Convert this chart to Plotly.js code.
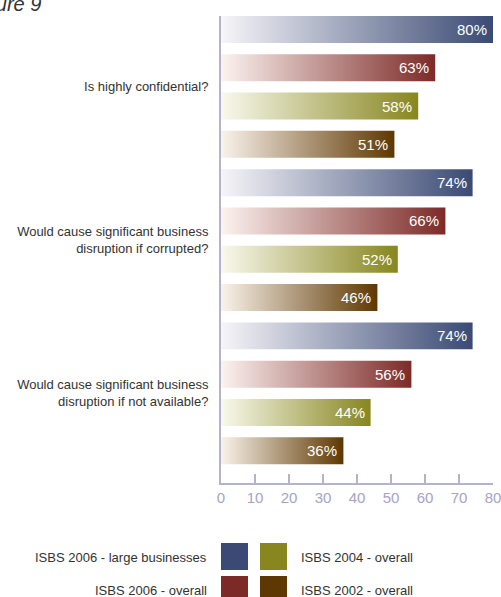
<!DOCTYPE html>
<html><head><meta charset="utf-8">
<script src="https://cdn.plot.ly/plotly-3.0.1.min.js"></script>
<style>html,body{margin:0;padding:0;background:#fff}#chart{width:501px;height:597px}</style>
</head><body><div id="chart"></div>
<script>
const categories = ["Is highly confidential?", "Would cause significant business<br>disruption if corrupted?", "Would cause significant business<br>disruption if not available?"];
const seriesNames = ["ISBS 2006 - large businesses", "ISBS 2006 - overall", "ISBS 2004 - overall", "ISBS 2002 - overall"];
const large2006 = [80, 74, 74];
const overall2006 = [63, 66, 56];
const overall2004 = [58, 52, 44];
const overall2002 = [51, 46, 36];
const xTicks = [0, 10, 20, 30, 40, 50, 60, 70, 80];

const series = [large2006, overall2006, overall2004, overall2002];
const endColors = ["#3a4a74", "#7c2a27", "#87861f", "#5e3802"];
const startColors = ["#f6f5f9", "#fcf3f0", "#f9f9ee", "#faf3ec"];

const W = 501, H = 597;
const M = {l: 221, r: 8, t: 16, b: 114};
const pw = W - M.l - M.r, ph = H - M.t - M.b;
const px = x => (x - M.l) / pw;
const py = y => (H - M.b - y) / ph;

const half = 0.352;
const traces = [];
const annotations = [];
categories.forEach((c, g) => {
  series.forEach((vals, s) => {
    const v = vals[g];
    const p = g * 4 + s;
    traces.push({
      type: 'scatter', mode: 'none', fill: 'toself', hoverinfo: 'skip', showlegend: false,
      x: [0, v, v, 0, 0], y: [p - half, p - half, p + half, p + half, p - half],
      fillgradient: {type: 'horizontal', colorscale: [[0, startColors[s]], [1, endColors[s]]]}
    });
    annotations.push({
      x: v, y: p, xref: 'x', yref: 'y', text: v + '%', showarrow: false,
      xanchor: 'right', yanchor: 'middle', xshift: -4,
      font: {family: 'Liberation Sans, Arial, sans-serif', size: 15, color: '#ffffff'}
    });
  });
});

// legend
const legendItems = [
  {s: 0, sx: 221, sy: 543, tx: 209, anchor: 'right'},
  {s: 1, sx: 221, sy: 576, tx: 209, anchor: 'right'},
  {s: 2, sx: 260, sy: 543, tx: 299, anchor: 'left'},
  {s: 3, sx: 260, sy: 576, tx: 299, anchor: 'left'}
];
const shapes = [];
legendItems.forEach(it => {
  shapes.push({type: 'rect', xref: 'paper', yref: 'paper',
    x0: px(it.sx), x1: px(it.sx + 27), y0: py(it.sy + 27), y1: py(it.sy),
    fillcolor: endColors[it.s], line: {width: 0}});
  annotations.push({xref: 'paper', yref: 'paper', x: px(it.tx), y: py(it.sy + 14),
    text: seriesNames[it.s], showarrow: false, xanchor: it.anchor, yanchor: 'middle',
    font: {family: 'Liberation Sans, Arial, sans-serif', size: 13, color: '#333333'}});
});
annotations.push({xref: 'paper', yref: 'paper', x: px(43), y: py(17), text: '<i>Figure 9</i>',
  showarrow: false, xanchor: 'right', yanchor: 'bottom',
  font: {family: 'Liberation Sans, Arial, sans-serif', size: 20, color: '#333333'}});

const layout = {
  width: W, height: H, margin: M, paper_bgcolor: '#fff', plot_bgcolor: '#fff',
  showlegend: false,
  xaxis: {range: [0, 80], tickvals: xTicks, ticktext: xTicks.map(String), showgrid: false, zeroline: false,
    showline: true, linecolor: '#b4b3cc', linewidth: 2, ticks: 'inside', ticklen: 9, tickcolor: '#b4b3cc', tickwidth: 2,
    ticklabeloverflow: 'allow',
    tickfont: {family: 'Liberation Sans, Arial, sans-serif', size: 15, color: '#a5a4c3'}, fixedrange: true},
  yaxis: {range: [11.84, -0.35], tickvals: [1.5, 5.5, 9.5], ticktext: categories, showgrid: false, zeroline: false,
    showline: true, linecolor: '#b4b3cc', linewidth: 2, ticks: 'outside', ticklen: 8, tickcolor: 'rgba(0,0,0,0)',
    tickfont: {family: 'Liberation Sans, Arial, sans-serif', size: 13, color: '#333333'}, fixedrange: true},
  shapes: shapes, annotations: annotations
};
Plotly.newPlot('chart', traces, layout, {displayModeBar: false, staticPlot: true});
</script></body></html>
